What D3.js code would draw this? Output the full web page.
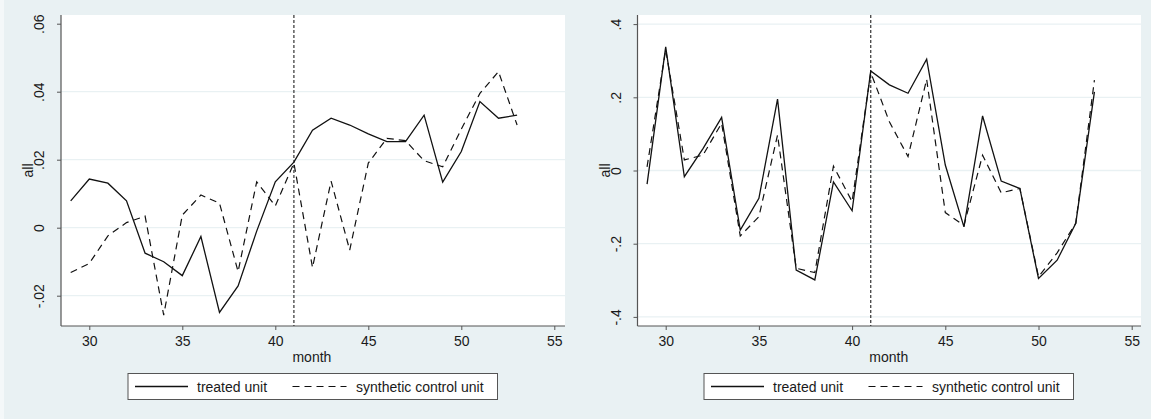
<!DOCTYPE html>
<html>
<head>
<meta charset="utf-8">
<script src="https://cdn.jsdelivr.net/npm/d3@7"></script>
<style>
  html, body { margin: 0; padding: 0; background: #e9f1f3; }
  svg { display: block; }
  text { font-family: "Liberation Sans", Arial, sans-serif; fill: #1a1a1a; }
</style>
</head>
<body>
<svg id="chart" width="1151" height="419"></svg>
<script>
// Months on the horizontal axis
const months = [29,30,31,32,33,34,35,36,37,38,39,40,41,42,43,44,45,46,47,48,49,50,51,52,53];
const treatmentMonth = 41;

// Left panel: treated vs synthetic control
const leftTreated = [0.0079,0.0143,0.0131,0.0079,-0.0075,-0.0100,-0.0141,-0.0026,-0.0249,-0.0171,-0.0010,0.0135,
  0.0193,0.0287,0.0322,0.0302,0.0276,0.0253,0.0253,0.0331,0.0134,0.0224,0.0371,0.0322,0.0331];
const leftSynthetic = [-0.0132,-0.0105,-0.0024,0.0015,0.0034,-0.0257,0.0037,0.0096,0.0072,-0.0129,0.0135,0.0064,
  0.0190,-0.0117,0.0137,-0.0066,0.0190,0.0263,0.0256,0.0197,0.0179,0.0290,0.0395,0.0459,0.0302];

// Right panel: treated vs synthetic control
const rightTreated = [-0.037,0.338,-0.017,0.060,0.145,-0.163,-0.076,0.195,-0.272,-0.299,-0.031,-0.110,
  0.272,0.234,0.211,0.304,0.015,-0.154,0.149,-0.029,-0.049,-0.295,-0.245,-0.144,0.215];
const rightSynthetic = [0.010,0.330,0.029,0.042,0.129,-0.179,-0.126,0.097,-0.267,-0.279,0.012,-0.085,
  0.268,0.133,0.038,0.249,-0.115,-0.150,0.042,-0.061,-0.049,-0.290,-0.225,-0.144,0.247];

const xTicks = [30,35,40,45,50,55];
const leftYTicks = [-0.02,0,0.02,0.04,0.06];
const leftYLabels = ["-.02","0",".02",".04",".06"];
const rightYTicks = [-0.4,-0.2,0,0.2,0.4];
const rightYLabels = ["-.4","-.2","0",".2",".4"];

const legendLabels = ["treated unit", "synthetic control unit"];

const svg = d3.select("#chart");
svg.append("rect").attr("width", 1151).attr("height", 419).attr("fill", "#e9f1f3");
svg.append("rect").attr("width", 4).attr("height", 419).attr("fill", "#f4f8f9");

function panel(opts) {
  const { left, right, top, bottom, xDomain, yDomain, yTicks, yLabels, treated, synthetic, gridTicks, legendX } = opts;
  const g = svg.append("g");
  const x = d3.scaleLinear().domain(xDomain).range([left, right]);
  const y = d3.scaleLinear().domain(yDomain).range([bottom, top]);

  // plot region
  g.append("rect").attr("x", left).attr("y", top)
    .attr("width", right - left).attr("height", bottom - top).attr("fill", "#ffffff");

  // horizontal grid
  g.selectAll("line.grid").data(gridTicks).join("line")
    .attr("x1", left).attr("x2", right)
    .attr("y1", d => y(d)).attr("y2", d => y(d))
    .attr("stroke", "#e9f1f3").attr("stroke-width", 1.3);

  // y axis
  const yAxis = d3.axisLeft(y).tickValues(yTicks).tickSize(4).tickFormat((d, i) => yLabels[i]);
  const ya = g.append("g").attr("transform", `translate(${left},0)`).call(yAxis);
  ya.select(".domain").attr("stroke", "#555").attr("stroke-width", 1.2).attr("d", `M0,${top}V${bottom}`);
  ya.selectAll(".tick line").attr("stroke", "#555");
  ya.selectAll(".tick text")
    .attr("x", 0).attr("y", 0).attr("dy", null)
    .attr("transform", "translate(-17,0) rotate(-90)")
    .attr("text-anchor", "middle")
    .style("font-size", "14px").style("font-family", "Liberation Sans, Arial, sans-serif").attr("fill", "#1a1a1a");

  // x axis
  const xAxis = d3.axisBottom(x).tickValues(xTicks).tickSize(4).tickFormat(d3.format("d"));
  const xa = g.append("g").attr("transform", `translate(0,${bottom})`).call(xAxis);
  xa.select(".domain").attr("stroke", "#555").attr("stroke-width", 1.2).attr("d", `M${left},0H${right}`);
  xa.selectAll(".tick line").attr("stroke", "#555");
  xa.selectAll(".tick text").attr("y", 10)
    .style("font-size", "14px").style("font-family", "Liberation Sans, Arial, sans-serif").attr("fill", "#1a1a1a");

  // axis titles
  g.append("text").attr("x", x(xDomain[0]) + (x(41) - left) + 18).attr("y", 362)
    .attr("text-anchor", "middle").style("font-size", "14px").text("month");
  g.append("text")
    .attr("transform", `translate(${left - 28},${(top + bottom) / 2}) rotate(-90)`)
    .attr("text-anchor", "middle").style("font-size", "14px").text("all");

  // treatment month marker
  g.append("line").attr("x1", x(treatmentMonth)).attr("x2", x(treatmentMonth))
    .attr("y1", top).attr("y2", bottom)
    .attr("stroke", "#333").attr("stroke-width", 1.2).attr("stroke-dasharray", "3,2");

  const line = d3.line().x((d, i) => x(months[i])).y(d => y(d));
  g.append("path").datum(synthetic).attr("d", line)
    .attr("fill", "none").attr("stroke", "#111").attr("stroke-width", 1.2)
    .attr("stroke-dasharray", "7,5");
  g.append("path").datum(treated).attr("d", line)
    .attr("fill", "none").attr("stroke", "#111").attr("stroke-width", 1.3);

  // legend
  const lg = g.append("g").attr("transform", `translate(${legendX},373.5)`);
  lg.append("rect").attr("width", 369.5).attr("height", 26)
    .attr("fill", "#ffffff").attr("stroke", "#555").attr("stroke-width", 1);
  lg.append("line").attr("x1", 7).attr("x2", 60).attr("y1", 13).attr("y2", 13)
    .attr("stroke", "#111").attr("stroke-width", 1.3);
  lg.append("text").attr("x", 69).attr("y", 18).style("font-size", "14px").text(legendLabels[0]);
  lg.append("line").attr("x1", 164.5).attr("x2", 218.5).attr("y1", 13).attr("y2", 13)
    .attr("stroke", "#111").attr("stroke-width", 1.2).attr("stroke-dasharray", "7,5");
  lg.append("text").attr("x", 228).attr("y", 18).style("font-size", "14px").text(legendLabels[1]);
}

panel({
  left: 61, right: 565, top: 15, bottom: 326,
  xDomain: [30 - 28.3 / 18.6, 30 + 475.7 / 18.6],
  yDomain: [(227.7 - 326) / 3400, (227.7 - 15) / 3400],
  yTicks: leftYTicks, yLabels: leftYLabels,
  gridTicks: [-0.02, 0, 0.02, 0.04],
  treated: leftTreated, synthetic: leftSynthetic,
  legendX: 128
});

panel({
  left: 637.5, right: 1141, top: 15, bottom: 326,
  xDomain: [30 - 28.2 / 18.64, 30 + 475.3 / 18.64],
  yDomain: [(170.5 - 326) / 366, (170.5 - 15) / 366],
  yTicks: rightYTicks, yLabels: rightYLabels,
  gridTicks: rightYTicks,
  treated: rightTreated, synthetic: rightSynthetic,
  legendX: 704
});
</script>
</body>
</html>
